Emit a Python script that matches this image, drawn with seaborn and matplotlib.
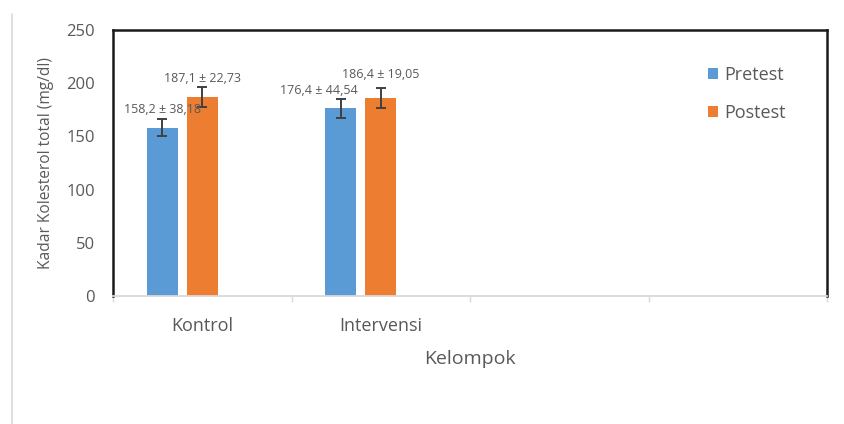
import matplotlib
matplotlib.use("Agg")
import matplotlib.pyplot as plt
from matplotlib.lines import Line2D
from matplotlib.patches import Patch
import seaborn as sns
import pandas as pd

# ---- data ----
categories = ["Kontrol", "Intervensi", "", " "]
groups = ["Kontrol", "Intervensi"]
series = ["Pretest", "Postest"]
pretest_mean = [158.2, 176.4]
pretest_sd = [38.18, 44.54]
pretest_err = [7.8, 8.7]
postest_mean = [187.1, 186.4]
postest_sd = [22.73, 19.05]
postest_err = [9.0, 9.5]
yticks = [0, 50, 100, 150, 200, 250]

# ---- style ----
sns.set_theme(style="white")
plt.rcParams["font.family"] = ["Open Sans", "DejaVu Sans"]
TXT = "#595959"
colors = {"Pretest": "#5B9BD5", "Postest": "#ED7D31"}

rows = []
for g, m, s, e in zip(groups, pretest_mean, pretest_sd, pretest_err):
    rows.append(dict(Kelompok=g, Seri="Pretest", nilai=m, sd=s, err=e))
for g, m, s, e in zip(groups, postest_mean, postest_sd, postest_err):
    rows.append(dict(Kelompok=g, Seri="Postest", nilai=m, sd=s, err=e))
df = pd.DataFrame(rows)

fig = plt.figure(figsize=(8.44, 4.24), dpi=100)
ax = fig.add_axes([113/844, 1-296/424, (827-113)/844, (296-30)/424])

hue_levels = ["Pretest", "Postest", "_kosong"]
sns.barplot(data=df, x="Kelompok", y="nilai", hue="Seri", order=categories,
            hue_order=hue_levels, palette={**colors, "_kosong": "#ffffff"},
            width=0.672, gap=0.22, errorbar=None, legend=False,
            linewidth=0, saturation=1, ax=ax)

# error bars and labels
lab_dx = {("Kontrol", "Pretest"): 0, ("Kontrol", "Postest"): 0,
          ("Intervensi", "Pretest"): -16, ("Intervensi", "Postest"): 0}
lab_dy = {("Kontrol", "Pretest"): 7, ("Kontrol", "Postest"): 6.5,
          ("Intervensi", "Pretest"): 6.5, ("Intervensi", "Postest"): 9.5}
for cont, lvl in zip(ax.containers, hue_levels):
    for bar in cont:
        h = bar.get_height()
        if not h or h != h:
            continue
        xc = bar.get_x() + bar.get_width() / 2
        cat = categories[int(round(xc))]
        row = df[(df.Kelompok == cat) & (df.Seri == lvl)].iloc[0]
        ax.errorbar(xc, row.nilai, yerr=row.err, fmt="none", ecolor="#404040",
                    elinewidth=1.4, capsize=3.6, capthick=1.4, zorder=5)
        txt = f"{row.nilai:.1f} ± {row.sd:.2f}".replace(".", ",")
        ax.annotate(txt, (xc, row.nilai + row.err), xytext=(lab_dx[(cat, lvl)], lab_dy[(cat, lvl)]),
                    textcoords="offset points", ha="center", va="center",
                    fontsize=9, color=TXT, zorder=6)

ax.set_ylim(0, 250)
ax.set_xlim(-0.5, len(categories) - 0.5)
ax.set_yticks(yticks)
ax.set_yticklabels([str(v) for v in yticks], fontsize=12, color=TXT)
ax.tick_params(axis="y", length=0, pad=13)

ax.set_xticks([i - 0.5 for i in range(len(categories) + 1)])
ax.set_xticklabels([])
ax.set_xticks(range(len(categories)), minor=True)
ax.set_xticklabels(categories, minor=True, fontsize=13, color=TXT)
ax.tick_params(axis="x", which="major", length=4, width=1, color="#d9d9d9", direction="out", bottom=True)
ax.tick_params(axis="x", which="minor", length=0, pad=15, bottom=True)

ax.set_xlabel("Kelompok", fontsize=14, color=TXT, labelpad=11)
ax.set_ylabel("Kadar Kolesterol total (mg/dl)", fontsize=11.2, color=TXT, labelpad=9)

for side in ["left", "top", "right"]:
    ax.spines[side].set_visible(True)
    ax.spines[side].set_color("#1a1a1a")
    ax.spines[side].set_linewidth(1.8)
ax.spines["bottom"].set_color("#d9d9d9")
ax.spines["bottom"].set_linewidth(1.3)

handles = [Patch(facecolor=colors[s], edgecolor="none") for s in series]
leg = ax.legend(handles, series, loc="upper left", bbox_to_anchor=(0.833, 0.865),
                frameon=False, fontsize=13, handlelength=0.55, handleheight=0.55,
                handletextpad=0.35, labelspacing=1.1, borderpad=0, borderaxespad=0)
for t in leg.get_texts():
    t.set_color(TXT)

fig.add_artist(Line2D([12/844, 12/844], [0, 1 - 14/424], transform=fig.transFigure,
                      color="#d9d9d9", linewidth=1.2))

fig.savefig("out.png", dpi=100, facecolor="white")
